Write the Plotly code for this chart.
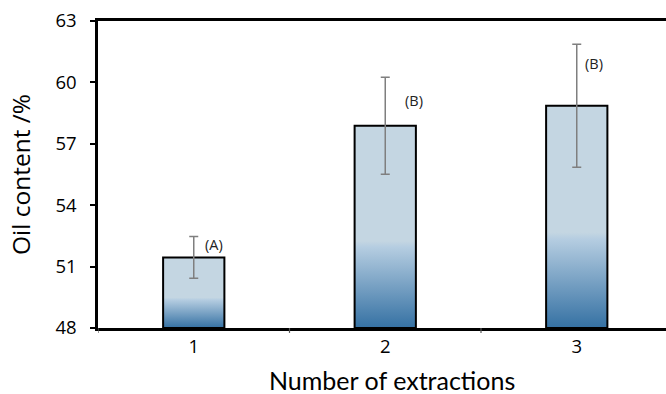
import plotly.graph_objects as go

categories = [1, 2, 3]
oil_content = [51.45, 57.88, 58.86]
errors = [1.02, 2.37, 3.0]
group_labels = ["(A)", "(B)", "(B)"]
ytick_vals = [48, 51, 54, 57, 60, 63]

# label placement (styling)
label_y = [52.1, 59.1, 60.9]
label_xshift = [9, 18, 6]

BAR_HALF = 0.16
Y_BASE = 48
DARK = "#3571a3"
MID = "#b5cde1"
LIGHT = "#c4d6e2"

fig = go.Figure()

for c, v in zip(categories, oil_content):
    xs = [c - BAR_HALF, c + BAR_HALF, c + BAR_HALF, c - BAR_HALF, c - BAR_HALF]
    ys = [Y_BASE, Y_BASE, v, v, Y_BASE]
    fig.add_trace(go.Scatter(
        x=xs, y=ys, mode="lines", fill="toself",
        line=dict(color="black", width=2),
        fillgradient=dict(type="vertical",
                          colorscale=[[0, DARK], [0.40, MID], [0.43, LIGHT], [1, LIGHT]],
                          start=Y_BASE, stop=v),
        hoverinfo="skip", showlegend=False,
    ))

fig.add_trace(go.Scatter(
    x=categories, y=oil_content, mode="markers",
    marker=dict(size=1, color="rgba(0,0,0,0)"),
    error_y=dict(type="data", array=errors, visible=True, color="#7f7f7f",
                 thickness=1.5, width=4.5),
    showlegend=False,
))

for c, ly, xs_, lab in zip(categories, label_y, label_xshift, group_labels):
    fig.add_annotation(x=c, y=ly, text=lab, showarrow=False,
                       xanchor="left", xshift=xs_,
                       font=dict(family="Open Sans", size=14.5, color="#222"))

# x-axis title
fig.add_annotation(xref="paper", yref="paper", x=0.518, y=-0.17,
                   xanchor="center", yanchor="middle", showarrow=False,
                   text="Number of extractions",
                   font=dict(family="Lato", size=25, color="black"))

fig.update_layout(
    width=666, height=394,
    margin=dict(l=98, r=0, t=21, b=66),
    paper_bgcolor="white", plot_bgcolor="white",
    font=dict(family="Open Sans", color="black"),
    xaxis=dict(
        range=[0.5, 0.5 + 568 / 191.5],
        tickmode="array", tickvals=categories, ticktext=[str(c) for c in categories],
        showgrid=False, zeroline=False,
        showline=True, linecolor="black", linewidth=2.5, mirror=True,
        ticks="", tickfont=dict(size=18.5, family="Open Sans"),
    ),
    yaxis=dict(
        range=[48, 63], tickvals=ytick_vals,
        showgrid=False, zeroline=False,
        showline=True, linecolor="black", linewidth=2.5, mirror=False,
        ticks="outside", ticklen=5, tickcolor="black", tickwidth=1.5,
        tickfont=dict(size=18.5, family="Open Sans"),
        ticklabelstandoff=10,
        title=dict(text="Oil content /%", font=dict(size=24.5), standoff=18),
    ),
)

# boundary tick marks on the x axis (between categories)
for b in [0.5, 1.5, 2.5, 3.5]:
    fig.add_shape(type="line", xref="x", yref="paper", x0=b, x1=b, y0=0, y1=-0.016,
                  line=dict(color="#555", width=1.2))

fig.write_html("out.html")
